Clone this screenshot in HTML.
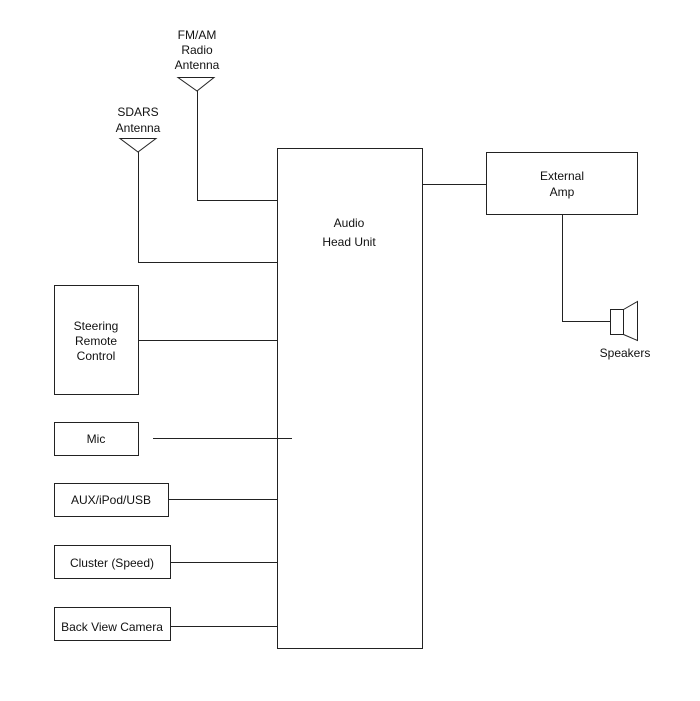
<!DOCTYPE html>
<html><head><style>html,body{margin:0;padding:0;background:#fff}</style></head>
<body>
<svg width="700" height="696" xmlns="http://www.w3.org/2000/svg" font-family="Liberation Sans, sans-serif" font-size="12" fill="none" stroke="#222" stroke-width="1">
<rect x="277.5" y="148.5" width="145" height="500"/>
<rect x="486.5" y="152.5" width="151" height="62"/>
<rect x="54.5" y="285.5" width="84" height="109"/>
<rect x="54.5" y="422.5" width="84" height="33"/>
<rect x="54.5" y="483.5" width="114" height="33"/>
<rect x="54.5" y="545.5" width="116" height="33"/>
<rect x="54.5" y="607.5" width="116" height="33"/>
<polygon points="178,77.5 214,77.5 197,91"/>
<polygon points="120,138.5 156,138.5 138,152"/>
<polyline points="197.5,91 197.5,200.5 277,200.5"/>
<polyline points="138.5,152 138.5,262.5 277,262.5"/>
<line x1="422" y1="184.5" x2="486" y2="184.5"/>
<polyline points="562.5,214 562.5,321.5 610,321.5"/>
<rect x="610.5" y="309.5" width="13" height="25"/>
<polyline points="623.5,309.5 637.5,301.5 637.5,340.5 623.5,334.5"/>
<line x1="138" y1="340.5" x2="277" y2="340.5"/>
<line x1="153" y1="438.5" x2="292" y2="438.5"/>
<line x1="168" y1="499.5" x2="277" y2="499.5"/>
<line x1="170" y1="562.5" x2="277" y2="562.5"/>
<line x1="170" y1="626.5" x2="277" y2="626.5"/>
<g fill="#111" stroke="none" text-anchor="middle">
<text x="197" y="39">FM/AM</text>
<text x="197" y="54">Radio</text>
<text x="197" y="69">Antenna</text>
<text x="138" y="116">SDARS</text>
<text x="138" y="132">Antenna</text>
<text x="349" y="227">Audio</text>
<text x="349" y="246">Head Unit</text>
<text x="562" y="180">External</text>
<text x="562" y="196">Amp</text>
<text x="625" y="357">Speakers</text>
<text x="96" y="330">Steering</text>
<text x="96" y="345">Remote</text>
<text x="96" y="360">Control</text>
<text x="96" y="443">Mic</text>
<text x="111" y="504">AUX/iPod/USB</text>
<text x="112" y="567">Cluster (Speed)</text>
<text x="112" y="631">Back View Camera</text>
</g>
</svg>
</body></html>
